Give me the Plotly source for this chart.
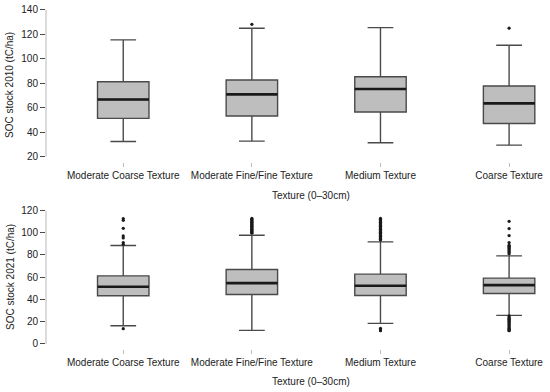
import plotly.graph_objects as go

categories = ["Moderate Coarse Texture", "Moderate Fine/Fine Texture", "Medium Texture", "Coarse Texture"]
positions = [1, 2, 3, 4]

# 2010 box statistics
lo_2010 = [32.3, 32.6, 31.2, 29.3]
q1_2010 = [51.2, 53.1, 56.4, 47.0]
med_2010 = [66.7, 70.8, 75.2, 63.5]
q3_2010 = [81.2, 82.6, 85.3, 77.7]
hi_2010 = [115.4, 125.0, 125.5, 111.0]
out_2010 = [[], [128.2], [], [125.0]]

# 2021 box statistics
lo_2021 = [16.2, 12.0, 18.3, 25.5]
q1_2021 = [43.2, 44.4, 43.5, 45.3]
med_2021 = [51.3, 54.6, 52.2, 52.8]
q3_2021 = [61.2, 66.9, 62.7, 59.1]
hi_2021 = [88.5, 97.8, 91.8, 79.2]
out_2021 = [
    [112.8, 111.3, 104.0, 97.2, 95.4, 91.2, 89.7, 13.5],
    [113.0, 112.3, 111.6, 110.9, 110.2, 109.5, 108.8, 108.1, 107.4, 106.7, 106.0,
     105.3, 104.6, 103.9, 103.2, 102.5, 101.8, 101.1, 100.4, 99.7],
    [113.0, 112.3, 111.6, 110.9, 110.2, 109.5, 108.8, 108.1, 107.4, 106.7, 106.0,
     105.3, 104.6, 103.9, 103.2, 102.5, 101.8, 101.1, 100.4, 99.7, 99.0, 98.3,
     97.6, 96.9, 96.2, 95.5, 94.8, 94.1, 93.4, 13.8, 12.5, 11.7],
    [110.4, 103.8, 97.5, 91.2, 88.8, 87.8, 86.8, 85.8, 84.8, 83.8, 82.5, 81.0,
     25.0, 24.0, 23.0, 22.0, 21.0, 20.0, 19.0, 18.0, 17.0, 16.0, 15.0, 14.0,
     13.0, 12.0, 11.7],
]

y_ticks_2010 = [20, 40, 60, 80, 100, 120, 140]
y_ticks_2021 = [0, 20, 40, 60, 80, 100, 120]

BOX_FILL = "#BEBEBE"
LINE = "#4a4a4a"
TEXT = "#222222"
FONT = "Liberation Sans, Arial, sans-serif"
BOX_W = 0.40

fig = go.Figure()


def add_panel(lo, q1, med, q3, hi, outs, xa, ya):
    fig.add_trace(go.Box(
        x=positions, q1=q1, median=med, q3=q3, lowerfence=lo, upperfence=hi,
        width=BOX_W, whiskerwidth=0.5, fillcolor=BOX_FILL,
        line=dict(color=LINE, width=1.4), boxpoints=False,
        xaxis=xa, yaxis=ya, showlegend=False, hoverinfo="skip"))
    mx, my = [], []
    for p, m in zip(positions, med):
        mx += [p - BOX_W / 2, p + BOX_W / 2, None]
        my += [m, m, None]
    fig.add_trace(go.Scatter(x=mx, y=my, mode="lines",
                             line=dict(color="#1a1a1a", width=2.6),
                             xaxis=xa, yaxis=ya, showlegend=False, hoverinfo="skip"))
    ox, oy = [], []
    for p, vals in zip(positions, outs):
        ox += [p] * len(vals)
        oy += vals
    fig.add_trace(go.Scatter(x=ox, y=oy, mode="markers",
                             marker=dict(color="#1a1a1a", size=3.2),
                             xaxis=xa, yaxis=ya, showlegend=False, hoverinfo="skip"))


add_panel(lo_2010, q1_2010, med_2010, q3_2010, hi_2010, out_2010, "x", "y")
add_panel(lo_2021, q1_2021, med_2021, q3_2021, hi_2021, out_2021, "x2", "y2")

xr = [0.3994, 4.318]
common_x = dict(range=xr, tickmode="array", tickvals=positions, ticktext=categories,
                ticks="outside", ticklen=4, tickcolor="#bdbdbd", tickwidth=1,
                showline=False, showgrid=False, zeroline=False, automargin=False,
                tickfont=dict(family=FONT, size=10, color=TEXT))
common_y = dict(ticks="outside", ticklen=5, tickcolor=LINE, tickwidth=1,
                showline=False, showgrid=False, zeroline=False, automargin=False,
                tickfont=dict(family=FONT, size=10, color=TEXT))

fig.update_layout(
    width=550, height=392,
    margin=dict(l=46, r=0, t=4, b=43, autoexpand=False),
    plot_bgcolor="white", paper_bgcolor="white",
    xaxis=dict(domain=[0, 1], anchor="y", **common_x),
    yaxis=dict(domain=[0.541, 1], anchor="x", range=[15.2, 144.8],
               tickvals=y_ticks_2010, **common_y),
    xaxis2=dict(domain=[0, 1], anchor="y2", **common_x),
    yaxis2=dict(domain=[0, 0.4165], anchor="x2", range=[-4.8, 124.8],
                tickvals=y_ticks_2021, **common_y),
    shapes=[
        dict(type="line", xref="paper", yref="y", x0=0, x1=0,
             y0=y_ticks_2010[0], y1=y_ticks_2010[-1],
             line=dict(color="#cfcfcf", width=1.5)),
        dict(type="line", xref="paper", yref="y2", x0=0, x1=0,
             y0=y_ticks_2021[0], y1=y_ticks_2021[-1],
             line=dict(color="#cfcfcf", width=1.5)),
    ],
    annotations=[
        dict(text="Texture (0–30cm)", xref="paper", yref="paper",
             x=(311 - 46) / 504, y=(349 - 195) / 345, showarrow=False,
             xanchor="center", yanchor="middle",
             font=dict(family=FONT, size=10, color=TEXT)),
        dict(text="Texture (0–30cm)", xref="paper", yref="paper",
             x=(311 - 46) / 504, y=(349 - 381) / 345, showarrow=False,
             xanchor="center", yanchor="middle",
             font=dict(family=FONT, size=10, color=TEXT)),
        dict(text="SOC stock 2010 (tC/ha)", xref="paper", yref="paper",
             x=(10 - 46) / 504, y=(349 - 85) / 345, showarrow=False, textangle=-90,
             xanchor="center", yanchor="middle",
             font=dict(family=FONT, size=10, color=TEXT)),
        dict(text="SOC stock 2021 (tC/ha)", xref="paper", yref="paper",
             x=(10 - 46) / 504, y=(349 - 277) / 345, showarrow=False, textangle=-90,
             xanchor="center", yanchor="middle",
             font=dict(family=FONT, size=10, color=TEXT)),
    ],
)

fig.write_html("out.html", config={"displayModeBar": False, "staticPlot": True},
               post_script="document.body.style.margin='0';document.body.style.overflow='hidden';")
